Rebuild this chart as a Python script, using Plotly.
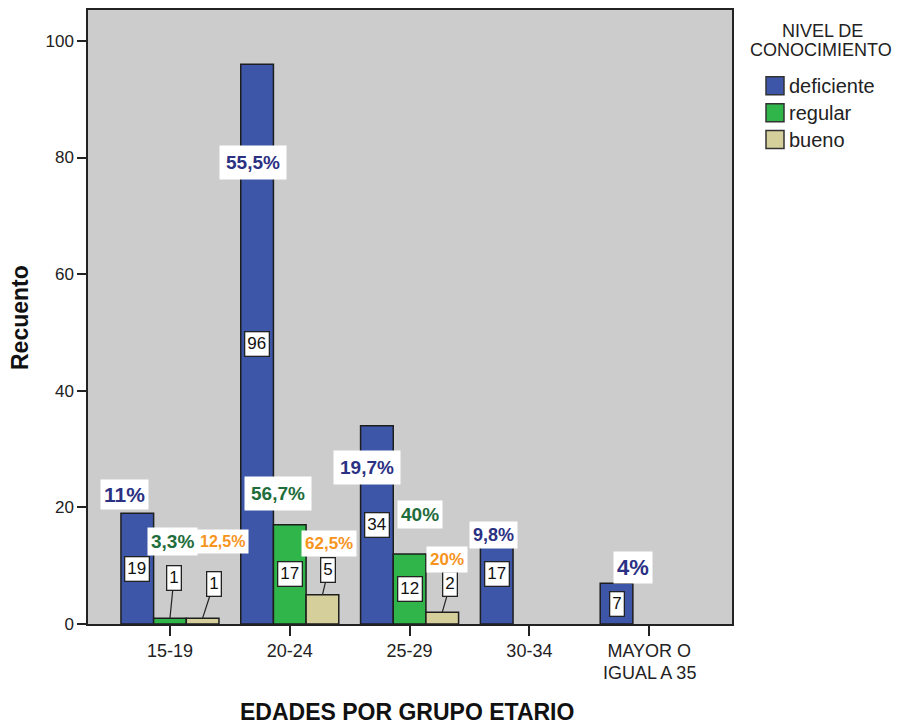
import plotly.graph_objects as go

# Counts per age group and knowledge level
age_groups = ["15-19", "20-24", "25-29", "30-34", "MAYOR O"]
last_group_line2 = "IGUAL A 35"
levels = ["deficiente", "regular", "bueno"]
deficiente = [19, 96, 34, 17, 7]
regular = [1, 17, 12, None, None]
bueno = [1, 5, 2, None, None]
pct_deficiente = ["11%", "55,5%", "19,7%", "9,8%", "4%"]
pct_regular = ["3,3%", "56,7%", "40%", None, None]
pct_bueno = ["12,5%", "62,5%", "20%", None, None]
y_ticks = [0, 20, 40, 60, 80, 100]

series = [deficiente, regular, bueno]
pcts = [pct_deficiente, pct_regular, pct_bueno]
bar_colors = ["#3d56a8", "#2fb54a", "#d5cf9b"]
pct_colors = ["#2b3183", "#1f6d3b", "#f7941d"]
FONT = "Liberation Sans, Arial, sans-serif"

# percentage label placement: pixel shift from the bar top (dx, dy) and font size
pct_shift = [
    [(-13, 19), (-4, -98), (-10, -42), (-3, -10), (16, 16)],
    [(3, 77), (-12, 31), (10, 40), None, None],
    [(20, 77), (7, 51), (5, 53), None, None],
]
pct_size = [
    [21, 19, 19, 18, 22],
    [19, 19, 19, None, None],
    [16, 17, 17, None, None],
]
pct_pad = [
    [3, 6, 6, 3, 3],
    [3, 6, 3, None, None],
    [3, 3, 3, None, None],
]
# leader-line offsets for count labels of short bars (ax, ay); None = centred in bar
count_leader = [
    [None, None, None, None, None],
    [(4, -40), None, None, None, None],
    [(11, -34), (6, -25), (8, -28), None, None],
]

W, H = 903, 724
L, R, T, B = 88, 171, 8, 100
pw, ph = W - L - R, H - T - B


def px(x):
    return (x - L) / pw


def py(y):
    return (H - B - y) / ph


bargap = 0.182
bar_w = (1 - bargap) / 3
offsets = [-bar_w, 0, bar_w]

fig = go.Figure()
xs = list(range(len(age_groups)))
for k, (name, vals) in enumerate(zip(levels, series)):
    fig.add_trace(go.Bar(
        x=xs, y=vals, name=name, showlegend=False,
        marker=dict(color=bar_colors[k], line=dict(color="#1e1e1e", width=1.5)),
    ))

annotations = []
for k, vals in enumerate(series):
    for i, v in enumerate(vals):
        if v is None:
            continue
        bx = i + offsets[k]
        lead = count_leader[k][i]
        box = dict(
            text=str(v), xref="x", yref="y",
            font=dict(family=FONT, size=17, color="#111"),
            bgcolor="white", bordercolor="#222", borderwidth=1.3, borderpad=2,
        )
        if lead is None:
            box.update(x=bx, y=v / 2, showarrow=False)
        else:
            box.update(x=bx, y=v, showarrow=True, arrowhead=0, arrowwidth=1.2,
                       arrowcolor="#222", ax=lead[0], ay=lead[1], standoff=0)
        annotations.append(box)

        sh = pct_shift[k][i]
        annotations.append(dict(
            x=bx, y=v, xref="x", yref="y", text="<b>%s</b>" % pcts[k][i],
            showarrow=False, xshift=sh[0], yshift=sh[1],
            font=dict(family=FONT, size=pct_size[k][i], color=pct_colors[k]),
            bgcolor="white", borderpad=pct_pad[k][i],
        ))

# second line of the last category label
annotations.append(dict(
    x=4, y=py(673), xref="x", yref="paper", text=last_group_line2, showarrow=False,
    xanchor="center", yanchor="middle", font=dict(family=FONT, size=18, color="#222"),
))

# axis titles
annotations.append(dict(
    x=px(407), y=py(712), xref="paper", yref="paper", xanchor="center", yanchor="middle",
    text="<b>EDADES POR GRUPO ETARIO</b>", showarrow=False,
    font=dict(family=FONT, size=23, color="#111"),
))
annotations.append(dict(
    x=px(20), y=py(317), xref="paper", yref="paper", xanchor="center", yanchor="middle",
    text="<b>Recuento</b>", textangle=-90, showarrow=False,
    font=dict(family=FONT, size=23, color="#111"),
))

# legend: heading, swatches and entry names
annotations.append(dict(
    x=px(822), y=py(29), xref="paper", yref="paper", xanchor="center", yanchor="middle",
    text="NIVEL DE", showarrow=False, font=dict(family=FONT, size=18, color="#222"),
))
annotations.append(dict(
    x=px(821), y=py(48), xref="paper", yref="paper", xanchor="center", yanchor="middle",
    text="CONOCIMIENTO", showarrow=False, font=dict(family=FONT, size=18, color="#222"),
))
shapes = []
row_y = [84, 111, 138]
for k, name in enumerate(levels):
    cy = row_y[k]
    shapes.append(dict(
        type="rect", xref="paper", yref="paper",
        x0=px(766), x1=px(784), y0=py(cy - 9), y1=py(cy + 9),
        fillcolor=bar_colors[k], line=dict(color="#333", width=1.5),
    ))
    annotations.append(dict(
        x=px(787), y=py(cy), xref="paper", yref="paper", xanchor="left", yanchor="middle",
        text=name, showarrow=False, font=dict(family=FONT, size=20, color="#222"),
    ))

fig.update_layout(
    width=W, height=H,
    margin=dict(l=L, r=R, t=T, b=B, pad=0),
    barmode="group", bargap=bargap, bargroupgap=0,
    plot_bgcolor="#cccccc", paper_bgcolor="white",
    font=dict(family=FONT, size=18, color="#222"),
    showlegend=False,
    annotations=annotations,
    shapes=shapes,
    xaxis=dict(
        range=[-0.684, 4.691], tickvals=xs, ticktext=age_groups,
        ticks="outside", ticklen=10, tickwidth=1.5, tickcolor="#222",
        showline=True, linecolor="#222", linewidth=1.5, mirror=True,
        showgrid=False, zeroline=False, tickfont=dict(family=FONT, size=18, color="#222"),
    ),
    yaxis=dict(
        range=[0, 105.3], tickvals=y_ticks,
        ticks="outside", ticklen=9, tickwidth=1.5, tickcolor="#222",
        showline=True, linecolor="#222", linewidth=1.5, mirror=True,
        showgrid=False, zeroline=False, tickfont=dict(family=FONT, size=17, color="#222"),
    ),
)

fig.write_html("out.html")
